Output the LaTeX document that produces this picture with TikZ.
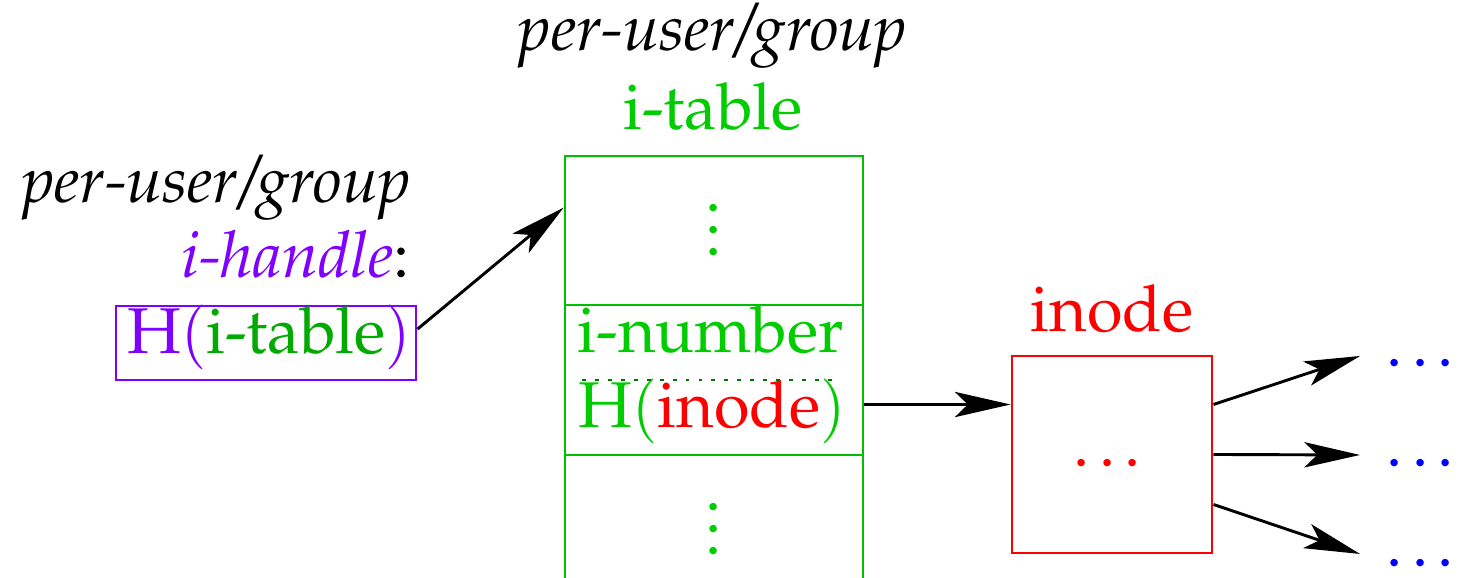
\documentclass[tikz,border=0pt]{standalone}
\usepackage[T1]{fontenc}
\usepackage{mathpazo}
\usetikzlibrary{arrows.meta,calc,fit}

\definecolor{tabgreen}{RGB}{0,190,0}
\definecolor{txtgreen}{RGB}{0,205,0}
\definecolor{hgreen}{RGB}{0,170,0}
\definecolor{hviolet}{RGB}{128,0,255}
\definecolor{ired}{RGB}{255,0,0}
\definecolor{dblue}{RGB}{0,0,255}

\newcommand{\colvdots}{\vbox{\baselineskip3.4pt\lineskiplimit0pt\hbox{.}\hbox{.}\hbox{.}}}
% thin Computer Modern parentheses around handle arguments
\newcommand{\lpar}{{\usefont{OT1}{cmr}{m}{n}(}}
\newcommand{\rpar}{{\usefont{OT1}{cmr}{m}{n})}}

\tikzset{
  box/.style={draw, line width=0.45pt, inner sep=0pt},
  lbl/.style={inner sep=0pt, anchor=base},
  arr/.style={draw=black, line width=0.45pt,
    -{Stealth[length=8.6pt, width=3.9pt, inset=2pt]}},
}

\begin{document}
\begin{tikzpicture}[x=0.1545pt, y=-0.1545pt, font=\fontsize{10}{12}\selectfont]
\useasboundingbox (0,0) rectangle (1461,578);

% column headings
\node[lbl] (ttl1) at (713,51) {\itshape per-user/group};
\node[lbl, text=txtgreen] (ttl2) at (713,130) {i-table};

% the i-table: three cells, open at the bottom
\node[box, draw=tabgreen, fit={(565,156) (863,305)}] (top) {};
\node[box, draw=tabgreen, fit={(565,305) (863,455)}] (mid) {};
\draw[tabgreen, line width=0.45pt] (565,600) |- (863,455) -- (863,600);
\node[inner sep=0pt, text=txtgreen] (topdots) at (714,230) {\colvdots};
\node[inner sep=0pt, text=txtgreen] (botdots) at (714,529) {\colvdots};
\node[lbl, text=txtgreen] (inum) at (711,353) {i-number};
\node[lbl, text=txtgreen] (hino) at (712,428) {H\lpar\textcolor{ired}{inode}\rpar};
\draw[green!45!black, line width=0.4pt, dash pattern=on 0.6pt off 1.4pt]
  (582,380) -- (838,380);

% the per-user/group handle
\node[lbl, anchor=base east] (hl1) at (412,203) {\itshape per-user/group};
\node[lbl, anchor=base east] (hl2) at (411,278) {\textcolor{hviolet}{\itshape i-handle}:};
\node[box, draw=hviolet, fit={(116,306) (416,380)}] (hbox) {};
\node[lbl, text=hviolet] (htxt) at (269,354) {H\lpar\textcolor{hgreen}{i-table}\rpar};

% the inode
\node[lbl, text=ired] (inol) at (1112,332) {inode};
\node[box, draw=ired, fit={(1012,356) (1212,553)}] (inode) {};
\node[lbl, text=ired] (inodots) at (1112,467) {\dots};

% what the inode points to
\node[lbl, text=dblue] (o1) at (1425,367) {\dots};
\node[lbl, text=dblue] (o2) at (1425,467) {\dots};
\node[lbl, text=dblue] (o3) at (1425,567) {\dots};
\coordinate (e1) at (1360,356);
\coordinate (e2) at (1360,455);
\coordinate (e3) at (1360,554);

% connectors
\draw[arr] ($(hbox.north east)!0.32!(hbox.south east)$) -- ($(top.north west)!0.35!(top.south west)$);
\coordinate (inin) at ($(inode.north west)!0.25!(inode.south west)$);
\draw[arr] (mid.east |- inin) -- (inin);
\draw[arr] ($(inode.north east)!0.25!(inode.south east)$) -- (e1);
\draw[arr] ($(inode.north east)!0.5!(inode.south east)$) -- (e2);
\draw[arr] ($(inode.north east)!0.75!(inode.south east)$) -- (e3);
\end{tikzpicture}
\end{document}
